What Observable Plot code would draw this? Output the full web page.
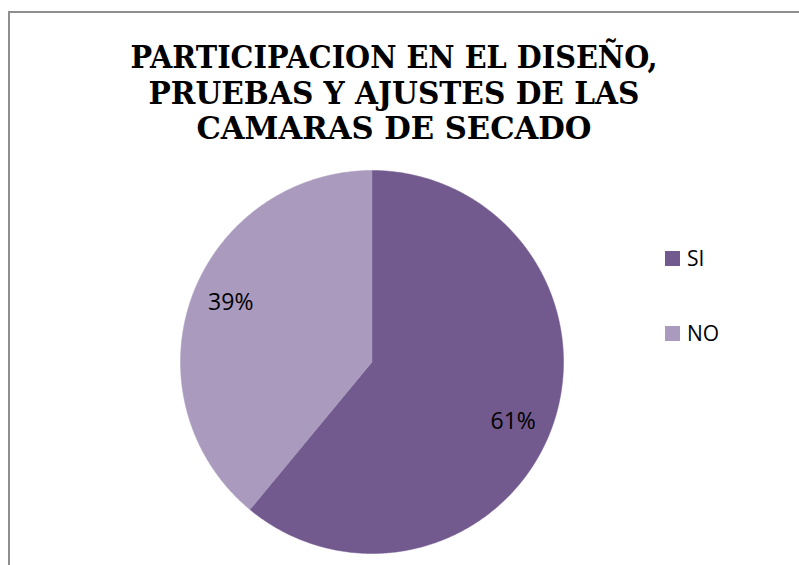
<!DOCTYPE html>
<html>
<head>
<meta charset="utf-8">
<script src="https://cdn.jsdelivr.net/npm/d3@7"></script>
<script src="https://cdn.jsdelivr.net/npm/@observablehq/plot@0.6"></script>
<style>
  html, body { margin: 0; padding: 0; background: #fff; }
  #wrap { position: relative; width: 799px; height: 565px; overflow: hidden; }
  #border { position: absolute; left: 8px; top: 11px; width: 820px; height: 600px;
            border: 2px solid #8e8e8e; box-sizing: border-box; }
  #chart { position: absolute; left: 0; top: 0; }
  .leg { position: absolute; left: 665px; font-family: "Open Sans", sans-serif; font-size: 21px;
         color: #000; display: flex; align-items: center; line-height: 1; }
  .leg .sw { width: 15px; height: 15px; margin-right: 7px; }
</style>
</head>
<body>
<div id="wrap">
  <div id="border"></div>
  <div id="chart"></div>
</div>
<script>
const titleLines = ["PARTICIPACION EN EL DISEÑO,", "PRUEBAS Y AJUSTES DE LAS", "CAMARAS DE SECADO"];
const categories = ["SI", "NO"];
const values = [61, 39];
const labels = ["61%", "39%"];
const colors = ["#725a8f", "#aa9bbe"];

// Build slice outlines from the data (angles clockwise from 12 o'clock)
const arcs = d3.pie().sort(null)(values);
const slicePts = [];
arcs.forEach((a, i) => {
  const n = Math.max(2, Math.ceil((a.endAngle - a.startAngle) / (Math.PI / 360)));
  slicePts.push({cat: categories[i], x: 0, y: 0});
  for (let k = 0; k <= n; k++) {
    const t = a.startAngle + (a.endAngle - a.startAngle) * k / n;
    slicePts.push({cat: categories[i], x: Math.sin(t), y: Math.cos(t)});
  }
  slicePts.push({cat: categories[i], x: 0, y: 0});
});
const shift = 3 * Math.PI / 180;
const labelPts = arcs.map((a, i) => {
  const m = (a.startAngle + a.endAngle) / 2 + shift;
  return {label: labels[i], x: 0.8 * Math.sin(m), y: 0.8 * Math.cos(m)};
});

const plot = Plot.plot({
  width: 799,
  height: 565,
  margin: 0,
  style: {background: "transparent", overflow: "visible"},
  x: {domain: [-1, 1], range: [180, 563], axis: null},
  y: {domain: [-1, 1], range: [553, 170], axis: null},
  color: {domain: categories, range: colors},
  marks: [
    Plot.line(slicePts, {x: "x", y: "y", z: "cat", fill: "cat", stroke: "cat", strokeWidth: 0.5, curve: "linear"}),
    Plot.text(labelPts, {x: "x", y: "y", text: "label", fontSize: 23, fontFamily: "Open Sans", fill: "#000"})
  ]
});
document.getElementById("chart").appendChild(plot);

// Title
const svg = d3.select(plot);
const titleLengths = [527, 491, 395];
const titleBase = [68, 103.5, 139];
titleLines.forEach((t, i) => {
  svg.append("text")
    .attr("x", 394)
    .attr("y", titleBase[i])
    .attr("text-anchor", "middle")
    .attr("font-family", "'DejaVu Serif', serif")
    .attr("font-weight", "bold")
    .attr("font-size", 32)
    .attr("fill", "#000")
    .attr("textLength", titleLengths[i])
    .attr("lengthAdjust", "spacingAndGlyphs")
    .text(t);
});

// Legend
const legTops = [248, 323];
const wrap = document.getElementById("wrap");
categories.forEach((c, i) => {
  const d = document.createElement("div");
  d.className = "leg";
  d.style.top = legTops[i] + "px";
  d.innerHTML = `<div class="sw" style="background:${colors[i]}"></div><span>${c}</span>`;
  wrap.appendChild(d);
});
</script>
</body>
</html>
